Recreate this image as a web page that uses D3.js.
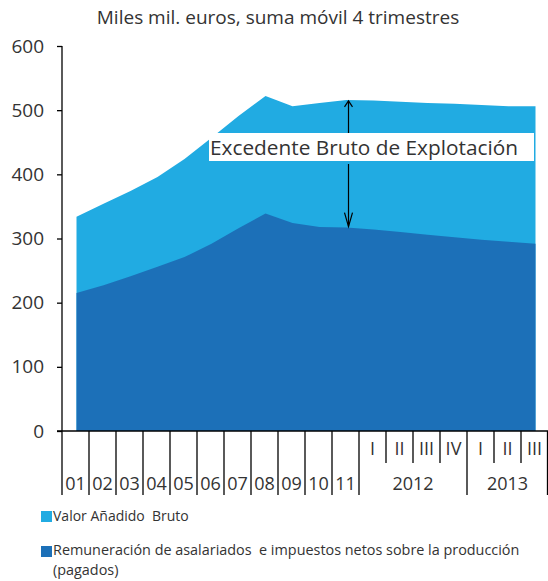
<!DOCTYPE html>
<html><head><meta charset="utf-8">
<script src="https://cdn.jsdelivr.net/npm/d3@7"></script>
<style>
body{margin:0;background:#fff;}
svg text{font-family:"Open Sans",sans-serif;fill:#333;}
</style></head>
<body><svg id="c" width="548" height="581"></svg>
<script>
const periods = ["01","02","03","04","05","06","07","08","09","10","11","I","II","III","IV","I","II","III"];
const periodYear = ["01","02","03","04","05","06","07","08","09","10","11","2012","2012","2012","2012","2013","2013","2013"];
const vab = [334, 354, 374, 396, 424, 457, 491, 522, 506, 511, 516, 515, 513, 511, 510, 508, 506, 506];
const rem = [215, 227, 241, 256, 271, 292, 316, 339, 324, 318, 317, 314, 310, 306, 302, 298, 295, 292];
const yTicks = [0, 100, 200, 300, 400, 500, 600];
const title = "Miles mil. euros, suma móvil 4 trimestres";
const seriesNames = ["Valor Añadido  Bruto", "Remuneración de asalariados  e impuestos netos sobre la producción", "(pagados)"];
const annotation = "Excedente Bruto de Explotación";
const colors = {vab:"#21ABE2", rem:"#1C70B8"};

const svg = d3.select("#c");
const x = d3.scaleBand().domain(d3.range(periods.length)).range([62, 548]).paddingInner(0).paddingOuter(0);
const y = d3.scaleLinear().domain([0, 600]).range([431, 46]);
const cx = i => x(i) + x.bandwidth()/2 + 1;

svg.append("text").attr("x", 278).attr("y", 24).attr("text-anchor","middle")
  .style("font-size","19px").text(title);

const areaV = d3.area().x((d,i)=>cx(i)).y0(y(0)).y1(d=>y(d));
svg.append("path").datum(vab).attr("d", areaV).attr("fill", colors.vab);
svg.append("path").datum(rem).attr("d", areaV).attr("fill", colors.rem);

// Y axis
const ya = svg.append("g").attr("transform","translate(62,0)")
  .call(d3.axisLeft(y).tickValues(yTicks).tickSize(5).tickPadding(13).tickFormat(d3.format("d")));
ya.select(".domain").attr("d","M0,46V495").attr("stroke","#000").attr("stroke-width",1.3);
ya.selectAll(".tick line").attr("stroke","#000").attr("stroke-width",1.3);
ya.selectAll(".tick text").style("font-size","19px").style("font-family","'Open Sans',sans-serif").attr("fill","#333");

// X axis
svg.append("line").attr("x1",57).attr("x2",548).attr("y1",y(0)).attr("y2",y(0)).attr("stroke","#000").attr("stroke-width",1.3);
const xg = svg.append("g");
periods.forEach((p,i)=>{
  const left = x(i);
  const isYearBoundary = i===0 || periodYear[i] !== periodYear[i-1];
  if (i>0) xg.append("line").attr("x1",left).attr("x2",left).attr("y1",y(0)).attr("y2", isYearBoundary?495:463)
    .attr("stroke","#000").attr("stroke-width",1.3);
  const quarter = periodYear[i].length===4;
  xg.append("text").attr("x", x(i)+x.bandwidth()/2).attr("y", quarter?455:490)
    .attr("text-anchor","middle").style("font-size", "18px").text(p);
});
xg.append("line").attr("x1",547.5).attr("x2",547.5).attr("y1",y(0)).attr("y2",495).attr("stroke","#000").attr("stroke-width",1.3);
// year group labels
const yearGroups = d3.groups(d3.range(periods.length).filter(i=>periodYear[i].length===4), i=>periodYear[i]);
yearGroups.forEach(([yr, idx])=>{
  const x0 = x(idx[0]), x1 = x(idx[idx.length-1]) + x.bandwidth();
  xg.append("text").attr("x",(x0+x1)/2).attr("y",490).attr("text-anchor","middle").style("font-size","18px").text(yr);
});

// annotation
const ai = 10;
const ax = cx(ai) + 2;
svg.append("rect").attr("x",209).attr("y",133).attr("width",325).attr("height",28).attr("fill","#fff");
svg.append("text").attr("x",210).attr("y",155).style("font-size","20.8px").attr("fill","#333").text(annotation);
const arrow = (y1,y2)=>{
  svg.append("line").attr("x1",ax).attr("x2",ax).attr("y1",y1).attr("y2",y2).attr("stroke","#000").attr("stroke-width",1.2);
  const dir = y2<y1 ? 1 : -1;
  const hl = y2<y1 ? 6 : 14;
  svg.append("path").attr("d",`M${ax-4},${y2+dir*hl}L${ax},${y2}L${ax+4},${y2+dir*hl}`).attr("fill","none").attr("stroke","#000").attr("stroke-width",1.2);
};
arrow(133, y(vab[ai])+1);
arrow(164, y(rem[ai])-1);

// legend
const lg = svg.append("g");
lg.append("rect").attr("x",41).attr("y",511).attr("width",11).attr("height",11).attr("fill",colors.vab);
lg.append("text").attr("x",53).attr("y",521).style("font-size","14px").style("white-space","pre").text(seriesNames[0]);
lg.append("rect").attr("x",41).attr("y",546).attr("width",11).attr("height",11).attr("fill",colors.rem);
lg.append("text").attr("x",53).attr("y",555).style("font-size","14.4px").style("white-space","pre").text(seriesNames[1]);
lg.append("text").attr("x",53).attr("y",575).style("font-size","14.4px").text(seriesNames[2]);
</script></body></html>
